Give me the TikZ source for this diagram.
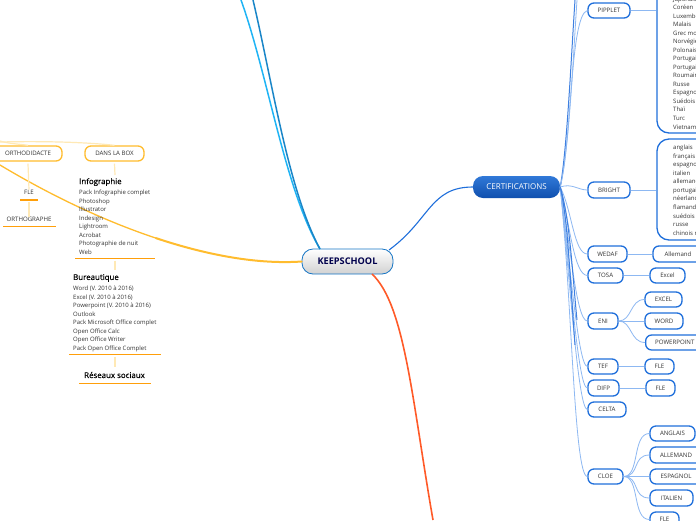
\documentclass[tikz,border=0pt]{standalone}
\usepackage{fontspec}
\setmainfont{Open Sans}
\newfontfamily\headfont[FakeBold=0.25]{Open Sans}
\definecolor{bluebd}{HTML}{1F6FDB}
\definecolor{bluelt}{HTML}{8DB8F2}
\definecolor{bluemid}{HTML}{3F80E0}
\definecolor{orgbd}{HTML}{FFBC2E}
\definecolor{orglt}{HTML}{FFE9B5}
\definecolor{orgul}{HTML}{FF9F0A}
\definecolor{txt}{HTML}{333333}
\definecolor{certtop}{HTML}{3079D8}
\definecolor{certbot}{HTML}{0F4FAE}
\definecolor{cyanA}{HTML}{1FB4F5}
\definecolor{cyanB}{HTML}{1A86C8}
\definecolor{redbr}{HTML}{FF5A28}
\tikzset{
  pill/.style={draw=bluebd,line width=1.3pt,rounded corners=6pt,fill=white,text=txt,font=\fontsize{6.1}{6.5}\selectfont,inner sep=0pt},
  opill/.style={pill,draw=orgbd},
  blue conn/.style={draw=bluelt,line width=.8pt},
  blue trunk/.style={draw=bluemid,line width=1pt},
  org conn/.style={draw=orglt,line width=1.2pt},
  ul/.style={draw=orgul,line width=1.1pt},
  words/.style={text=txt,font=\fontsize{6}{8.53}\selectfont,inner sep=0pt,anchor=north west,align=left},
  head/.style={text=black,font=\headfont\fontsize{7.9}{8}\selectfont,inner sep=0pt,anchor=west},
  lab/.style={text=txt,font=\fontsize{6.1}{6.5}\selectfont,inner sep=0pt},
}
\newcommand{\pillat}[7][pill]{\node[#1,minimum width=#5pt-#3pt,minimum height=#6pt-#4pt] (#2) at ({(#3+#5)/2},{(#4+#6)/2}) {#7};}
\begin{document}
\begin{tikzpicture}[x=1pt,y=-1pt]
\useasboundingbox (0,0) rectangle (696,520);
\clip (0,0) rectangle (696,520);
\fill[white] (0,0) rectangle (696,520);

% blue second-level nodes
\pillat{pipplet}{588}{3}{630}{18}{PIPPLET}
\pillat{bright}{588}{182}{630}{198}{BRIGHT}
\pillat{wedaf}{588}{246}{627}{262}{WEDAF}
\pillat{tosa}{588}{268}{623}{283}{TOSA}
\pillat{eni}{588}{313}{618}{329}{ENI}
\pillat{tef}{588}{359}{618}{374}{TEF}
\pillat{difp}{588}{380}{619}{396}{DIFP}
\pillat{celta}{588}{402}{626}{417}{CELTA}
\pillat{cloe}{588}{469}{623}{484}{CLOE}
% third level
\node[pill,rounded corners=12pt,minimum width=60pt,minimum height=165pt] (langA) at (687,50.5) {};
\node[pill,rounded corners=12pt,minimum width=60pt,minimum height=101pt] (langB) at (687,189.5) {};
\pillat{allem}{653}{246}{703}{262}{Allemand}
\pillat{excel}{650}{268}{685}{283}{Excel}
\pillat{uexcel}{645}{292}{682}{307}{EXCEL}
\pillat{uword}{645}{313}{683}{329}{WORD}
\node[pill,minimum height=15pt,anchor=west] (uppt) at (645,342.5) {\hspace*{9.5pt}POWERPOINT\hspace*{9pt}};
\pillat{fleA}{645}{359}{674}{374}{FLE}
\pillat{fleB}{646}{380}{675}{396}{FLE}
\pillat{cang}{650}{426}{695}{441}{ANGLAIS}
\pillat{call}{650}{447}{702}{463}{ALLEMAND}
\pillat{cesp}{650}{469}{702}{484}{ESPAGNOL}
\pillat{cita}{650}{490}{693}{506}{ITALIEN}
\pillat{cfle}{650}{512}{679}{527}{FLE}

% language lists
\node[words] (listA) at (673,-3.5) {Japonais\\Coréen\\Luxembourgeois\\Malais\\Grec moderne\\Norvégien\\Polonais\\Portugais\\Portugais\\Roumain\\Russe\\Espagnol\\Suédois\\Thaï\\Turc\\Vietnamien};
\node[words] (listB) at (673,145) {anglais\\français\\espagnol\\italien\\allemand\\portugais\\néerlandais\\flamand\\suédois\\russe\\chinois mandarin};

% central nodes
\node[draw=none,rounded corners=10pt,top color=certtop,bottom color=certbot,text=white,font=\fontsize{8}{9}\selectfont,minimum width=87pt,minimum height=22pt,inner sep=0pt] (cert) at (516.5,187) {CERTIFICATIONS};
\node[draw=cyan!55!blue,line width=.8pt,rounded corners=11pt,top color=white,bottom color=black!18,text=blue!30!black,font=\fontsize{9.2}{10}\selectfont\bfseries,minimum width=91pt,minimum height=25pt,inner sep=0pt] (keep) at (347.5,261.5) {KEEPSCHOOL};

% free ends
\coordinate (yend) at (0,165);
\coordinate (ymid) at (155.9,238.1);
\coordinate (rend) at (433,520);
\coordinate (cyA) at (241,0);
\coordinate (cyB) at (253,0);
\coordinate (cyE) at (320,249);
\coordinate (ctopA) at (575,0);
\coordinate (ctopB) at (577,0);

% main branches
\draw[orgbd,line width=2pt,line cap=round] (keep.west) .. controls (258.5,264.5) and (208,255.5) .. (ymid);
\draw[orgbd,line width=1.3pt,line cap=round] (ymid) .. controls (103.75,220.75) and (50,195) .. (yend);
\draw[cyanA,line width=1.5pt] (cyA) .. controls (268,75) and (285,190) .. (cyE);
\draw[cyanB,line width=1.5pt] (cyB) .. controls (272,80) and (288,190) .. (cyE);
\draw[bluebd,line width=1.1pt] (389,250) .. controls (430,220) and (430,187) .. (cert.west);
\draw[redbr,line width=1.6pt] (372,274) .. controls (405,305) and (412,400) .. (rend);

% fan from CERTIFICATIONS
\draw[blue conn] (cert.east) .. controls (572,140) and (570,15) .. (pipplet.west);
\draw[blue trunk] (cert.east) .. controls (567,150) and (571,60) .. (ctopA);
\draw[blue conn] (cert.east) .. controls (569,150) and (573,60) .. (ctopB);
\draw[blue conn] (cert.east) .. controls (572,183) and (578,190) .. (bright.west);
\draw[blue conn] (cert.east) .. controls (572,210) and (574,254) .. (wedaf.west);
\draw[blue conn] (cert.east) .. controls (570,225) and (574,275) .. (tosa.west);
\draw[blue conn] (cert.east) .. controls (570,240) and (576,321) .. (eni.west);
\draw[blue conn] (cert.east) .. controls (570,260) and (578,366) .. (tef.west);
\draw[blue conn] (cert.east) .. controls (570,270) and (578,388) .. (difp.west);
\draw[blue conn] (cert.east) .. controls (570,280) and (578,409) .. (celta.west);
\draw[blue conn] (cert.east) .. controls (572,300) and (574,476) .. (cloe.west);
\coordinate (fanA) at (577,320);
\coordinate (fanB) at (575,345);
\draw[blue trunk] (cert.east) .. controls (570,220) and (572,270) .. (fanA);
\draw[blue trunk] (cert.east) .. controls (568,220) and (570,280) .. (fanB);

% child connectors
\draw[blue conn] (pipplet.east) -- (langA.west |- pipplet.east);
\draw[blue conn] (bright.east) -- (langB.west |- bright.east);
\draw[blue conn] (wedaf) -- (allem);
\draw[blue conn] (tosa) -- (excel);
\draw[blue conn] (tef) -- (fleA);
\draw[blue conn] (difp) -- (fleB);
\draw[blue conn] (eni.east) .. controls (632,321) and (630,299.5) .. (uexcel.west);
\draw[blue conn] (eni.east) -- (uword.west);
\draw[blue conn] (eni.east) .. controls (632,321) and (630,342.5) .. (uppt.west);
\foreach \t in {cang,call,cesp,cita,cfle}{
  \draw[blue conn] (cloe.east) .. controls (640,476.5) and (632,0 |- \t.west) .. (\t.west);
}

% orange side
\coordinate (oL) at (0,141);
\coordinate (oM) at (0,142);
\pillat[opill]{ortho}{-6}{146}{62}{161}{ORTHODIDACTE}
\pillat[opill]{dans}{85}{146}{144}{161}{DANS LA BOX}
\draw[org conn] (oL) .. controls (10,144) and (20,144) .. (ortho.north);
\draw[org conn] (oM) .. controls (40,141) and (85,142) .. (dans.north);

\node[lab] (fle) at (29,192) {FLE};
\draw[ul] (20,200) -- (38,200);
\node[lab] (orth) at (29,219) {ORTHOGRAPHE};
\draw[ul] (3,226.7) -- (56,226.7);
\draw[org conn] (ortho.south) ++(0,2) -- (fle.north);
\draw[org conn] (29,202) -- (orth.north);

\node[head] (info) at (79,182) {Infographie};
\node[words] (infoL) at (79,190) {Pack Infographie complet\\Photoshop\\Illustrator\\Indesign\\Lightroom\\Acrobat\\Photographie de nuit\\Web};
\draw[ul] (75,258.7) -- (155,258.7);
\draw[org conn] (dans.south) ++(0,2) -- (115,175);
\draw[org conn] (115,260.5) -- (115,270);
\node[head] (bur) at (73,278) {Bureautique};
\node[words] (burL) at (73,286) {Word (V. 2010 à 2016)\\Excel (V. 2010 à 2016)\\Powerpoint (V. 2010 à 2016)\\Outlook\\Pack Microsoft Office complet\\Open Office Calc\\Open Office Writer\\Pack Open Office Complet};
\draw[ul] (69,354.7) -- (161,354.7);
\draw[org conn] (115,356.5) -- (115,367);
\node[head] (res) at (84,375) {Réseaux sociaux};
\draw[ul] (79,383.5) -- (151,383.5);
\end{tikzpicture}
\end{document}
